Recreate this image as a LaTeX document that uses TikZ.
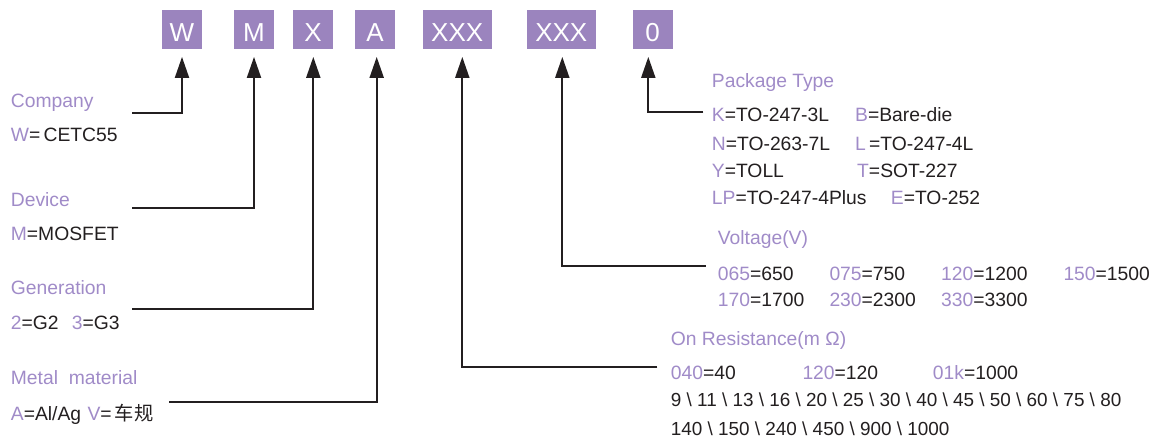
\documentclass[tikz,border=0pt]{standalone}
\usepackage{fontspec}
\setmainfont{Liberation Sans}
\newfontfamily\cjk{Noto Sans CJK SC}
\usetikzlibrary{arrows.meta}
\definecolor{pbox}{RGB}{155,132,190}
\definecolor{ptxt}{RGB}{160,139,200}
\definecolor{dk}{RGB}{35,31,32}
\newcommand{\pu}[1]{\textcolor{ptxt}{#1}}
\begin{document}
\begin{tikzpicture}[x=1pt,y=-1pt,
  codebox/.style={fill=pbox, text=white, inner sep=0pt, minimum height=39.3pt,
    text height=24pt, text depth=0pt, font=\fontsize{26}{30}\selectfont},
  txt/.style={anchor=base west, inner sep=0pt, text=dk, font=\fontsize{19.3}{23}\selectfont},
  head/.style={txt, text=ptxt},
  conn/.style={draw=dk, line width=2pt, -{Triangle[length=21pt,width=14pt]}, shorten >=7.4pt}]
\useasboundingbox (0,0) rectangle (1165,437);

% code boxes
\node[codebox, minimum width=40pt]   (bW) at (182,29.65)   {W};
\node[codebox, minimum width=40pt]   (bM) at (254,29.65)   {M};
\node[codebox, minimum width=39.4pt] (bX) at (313,29.65)   {X};
\node[codebox, minimum width=40pt]   (bA) at (375,29.65)   {A};
\node[codebox, minimum width=69pt]   (bR) at (457.2,29.65) {XXX};
\node[codebox, minimum width=69.3pt] (bV) at (561.3,29.65) {XXX};
\node[codebox, minimum width=40pt]   (bP) at (652.7,29.65) {0};

% left texts
\node[head] (tCo)  at (10.7,107.3) {Company};
\node[txt]  (vCo)  at (10.7,141)   {\pu{W}=\,CETC55};
\node[head] (tDe)  at (10.7,206)   {Device};
\node[txt]  (vDe)  at (10.7,240)   {\pu{M}=MOSFET};
\node[head] (tGe)  at (10.7,294.3) {Generation};
\node[txt]  (vGe1) at (10.7,329)   {\pu{2}=G2};
\node[txt]  (vGe2) at (71.7,329)   {\pu{3}=G3};
\node[head] (tMe)  at (10.7,384)   {Metal\ \ material};
\node[txt]  (vMe1) at (10.7,420)   {\pu{A}=Al/Ag};
\node[txt]  (vMe2) at (87.3,420)   {\pu{V}=\,{\cjk 车规}};

% package type
\node[head] (tPk) at (711.7,87.3) {Package Type};
\node[txt] (p1) at (711.7,121)   {\pu{K}=TO-247-3L};
\node[txt] (p2) at (855,121)     {\pu{B}=Bare-die};
\node[txt] (p3) at (711.7,150.7) {\pu{N}=TO-263-7L};
\node[txt] (p4) at (855,150.7)   {\pu{L}\,=TO-247-4L};
\node[txt] (p5) at (711.7,177.3) {\pu{Y}=TOLL};
\node[txt] (p6) at (857,177.3)   {\pu{T}=SOT-227};
\node[txt] (p7) at (711.7,204)   {\pu{LP}=TO-247-4Plus};
\node[txt] (p8) at (890.7,204)   {\pu{E}=TO-252};

% voltage
\node[head] (tVo) at (717.7,244) {Voltage(V)};
\node[txt] (v1) at (717.7,280)  {\pu{065}=650};
\node[txt] (v2) at (829.3,280)  {\pu{075}=750};
\node[txt] (v3) at (941,280)    {\pu{120}=1200};
\node[txt] (v4) at (1063.3,280) {\pu{150}=1500};
\node[txt] (v5) at (717.7,306)  {\pu{170}=1700};
\node[txt] (v6) at (829.3,306)  {\pu{230}=2300};
\node[txt] (v7) at (941,306)    {\pu{330}=3300};

% on resistance
\node[head] (tRe) at (670.7,345) {On Resistance(m Ω)};
\node[txt] (r1) at (670.7,379.3) {\pu{040}=40};
\node[txt] (r2) at (802.3,379.3) {\pu{120}=120};
\node[txt] (r3) at (932.7,379.3) {\pu{01k}=1000};
\node[txt, font=\fontsize{18.9}{23}\selectfont] (r4) at (670.7,406.7) {9 \textbackslash{} 11 \textbackslash{} 13 \textbackslash{} 16 \textbackslash{} 20 \textbackslash{} 25 \textbackslash{} 30 \textbackslash{} 40 \textbackslash{} 45 \textbackslash{} 50 \textbackslash{} 60 \textbackslash{} 75 \textbackslash{} 80};
\node[txt, font=\fontsize{18.9}{23}\selectfont] (r5) at (670.7,435) {140 \textbackslash{} 150 \textbackslash{} 240 \textbackslash{} 450 \textbackslash{} 900 \textbackslash{} 1000};

% connectors
\coordinate (cCo) at (132.3,113);
\coordinate (cDe) at (132.3,207.7);
\coordinate (cGe) at (132.3,309.3);
\coordinate (cMe) at (169,402);
\coordinate (cRe) at (657.3,367.3);
\coordinate (cVo) at (705.7,265.7);
\coordinate (cPk) at (703.3,111.5);
\draw[conn] (cCo) -| (bW.south);
\draw[conn] (cDe) -| (bM.south);
\draw[conn] (cGe) -| ([xshift=0.3pt]bX.south);
\draw[conn] (cMe) -| ([xshift=1.7pt]bA.south);
\draw[conn] (cRe) -| ([xshift=5.1pt]bR.south);
\draw[conn] (cVo) -| ([xshift=1pt]bV.south);
\draw[conn] (cPk) -| ([xshift=-4.4pt]bP.south);
\end{tikzpicture}
\end{document}
